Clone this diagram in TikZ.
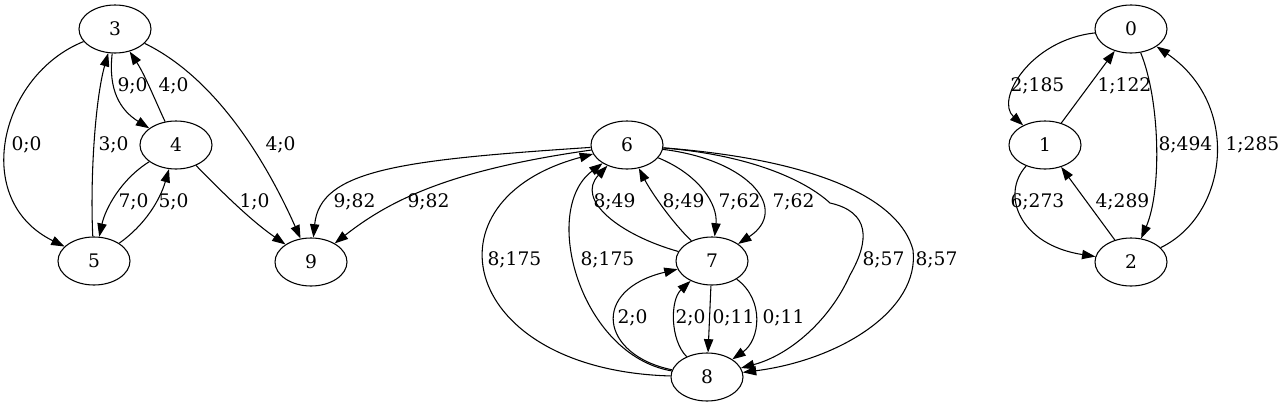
\documentclass[tikz,border=0pt]{standalone}
\usepackage{fontspec}
\setmainfont{DejaVu Serif}
\usetikzlibrary{arrows.meta,positioning,shapes.geometric}

\tikzset{
  state/.style={ellipse, draw, minimum width=54pt, minimum height=36pt, inner sep=0pt, font=\fontsize{14}{16}\selectfont},
  lbl/.style={anchor=west, inner sep=0pt, font=\fontsize{14}{16}\selectfont},
  >={Triangle[length=10pt,width=7pt]}
}

\begin{document}
\begin{tikzpicture}[x=0.75pt, y=-0.75pt, line width=0.8pt]
        \useasboundingbox (0,0) rectangle (1283,407);
        \node[state] (v3) at (115,29) {3};
        \node[state] (v4) at (176,145) {4};
        \node[state] (v5) at (94,261) {5};
        \node[state] (v9) at (311,262) {9};
        \node[state] (v6) at (627,145) {6};
        \node[state] (v7) at (712,261) {7};
        \node[state] (v8) at (707,377) {8};
        \node[state] (v0) at (1131,29) {0};
        \node[state] (v1) at (1045,145) {1};
        \node[state] (v2) at (1131,262) {2};

        % left part
        \draw[->] (v3) .. controls (0,75) and (-30,200) .. (v5) node[lbl] at (11,145) {0;0};
        \draw[->] (v5) .. controls (90,180) and (95,100) .. (v3) node[lbl] at (98,145) {3;0};
        \draw[->] (v3) .. controls (108,90) and (120,110) .. (v4) node[lbl] at (117,86) {9;0};
        \draw[->] (v4) .. controls (155,100) and (145,75) .. (v3) node[lbl] at (158,86) {4;0};
        \draw[->] (v4) .. controls (120,180) and (105,210) .. (v5) node[lbl] at (118,202) {7;0};
        \draw[->] (v5) .. controls (145,225) and (160,200) .. (v4) node[lbl] at (158,202) {5;0};
        \draw[->] (v4) .. controls (220,190) and (250,220) .. (v9) node[lbl] at (239,202) {1;0};
        \draw[->] (v3) .. controls (220,80) and (270,170) .. (v9) node[lbl] at (265,145) {4;0};
        \draw[->] (v6) .. controls (400,160) and (320,170) .. (v9) node[lbl] at (333,202) {9;82};
        \draw[->] (v6) .. controls (450,170) and (390,200) .. (v9) node[lbl] at (407,202) {9;82};

        % middle part
        \draw[->] (v6) .. controls (700,175) and (718,205) .. (v7) node[lbl] at (718,202) {7;62};
        \draw[->] (v6) .. controls (750,160) and (790,210) .. (v7) node[lbl] at (772,202) {7;62};
        \draw[->] (v7) .. controls (620,235) and (575,200) .. (v6) node[lbl] at (593,202) {8;49};
        \draw[->] (v7) .. controls (670,220) and (650,190) .. (v6) node[lbl] at (662,202) {8;49};
        \draw[->] (v8) .. controls (460,370) and (420,200) .. (v6) node[lbl] at (487,260) {8;175};
        \draw[->] (v8) .. controls (580,355) and (540,210) .. (v6) node[lbl] at (580,260) {8;175};
        \draw[->] (v8) .. controls (600,355) and (590,290) .. (v7) node[lbl] at (617,318) {2;0};
        \draw[->] (v8) .. controls (670,340) and (670,300) .. (v7) node[lbl] at (675,318) {2;0};
        \draw[->] (v7) -- (v8) node[lbl] at (712,318) {0;11};
        \draw[->] (v7) .. controls (765,300) and (760,340) .. (v8) node[lbl] at (762,318) {0;11};
        \draw[->] (v6) .. controls (750,155) and (805,180) .. (830,203)
                  .. controls (870,212) and (870,240) .. (850,275)
                  .. controls (830,320) and (790,355) .. (v8) node[lbl] at (862,260) {8;57};
        \draw[->] (v6) .. controls (820,160) and (900,200) .. (913,250)
                  .. controls (920,310) and (840,360) .. (v8) node[lbl] at (915,260) {8;57};

        % right part
        \draw[->] (v0) .. controls (1030,40) and (995,100) .. (v1) node[lbl] at (1010,86) {2;185};
        \draw[->] (v1) -- (v0) node[lbl] at (1097,86) {1;122};
        \draw[->] (v0) .. controls (1160,100) and (1162,190) .. (v2) node[lbl] at (1158,145) {8;494};
        \draw[->] (v2) .. controls (1228,215) and (1242,105) .. (v0) node[lbl] at (1225,145) {1;285};
        \draw[->] (v1) .. controls (1000,195) and (1020,245) .. (v2) node[lbl] at (1010,202) {6;273};
        \draw[->] (v2) -- (v1) node[lbl] at (1095,202) {4;289};
\end{tikzpicture}
\end{document}
